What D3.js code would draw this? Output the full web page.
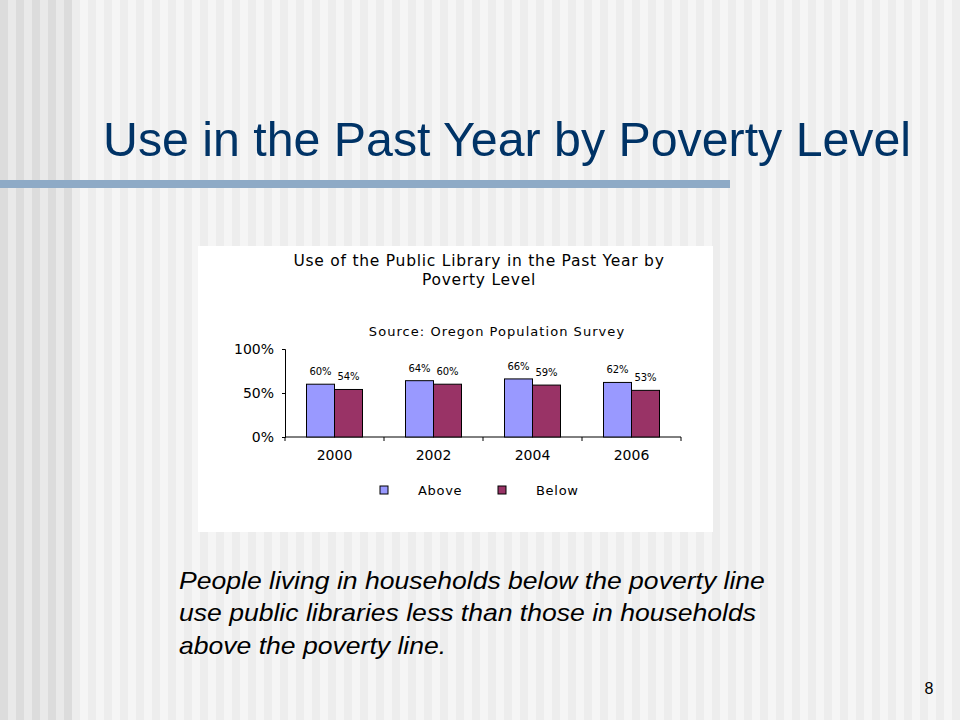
<!DOCTYPE html>
<html>
<head>
<meta charset="utf-8">
<script src="https://cdn.jsdelivr.net/npm/d3@7"></script>
<style>
  html, body { margin: 0; padding: 0; background: #f4f4f4; }
  svg { display: block; }
</style>
</head>
<body>
<svg id="slide" width="960" height="720"></svg>
<script>
// Chart data
const years = ["2000", "2002", "2004", "2006"];
const series = ["Above", "Below"];
const aboveValues = [60, 64, 66, 62];
const belowValues = [54, 60, 59, 53];
const yTicks = [0, 50, 100];
const noteLines = [
    "People living in households below the poverty line",
    "use public libraries less than those in households",
    "above the poverty line."
];

const W = 960, H = 720;
const svg = d3.select("#slide");

// Striped slide background
const stripes = d3.range(0, W, 8);
svg.append("g").selectAll("rect")
    .data(stripes)
    .join("rect")
    .attr("x", d => d)
    .attr("y", 0)
    .attr("width", 8)
    .attr("height", H)
    .attr("fill", (d, i) => {
        if (d < 72) return i % 2 ? "#e9e9e9" : "#dcdcdc";
        return i % 2 ? "#ededed" : "#f5f5f5";
    });

// Slide title and rule
svg.append("text")
    .attr("x", 103)
    .attr("y", 156)
    .attr("font-family", "Liberation Sans, Arial, sans-serif")
    .attr("font-size", 48.3)
    .attr("fill", "#003366")
    .text("Use in the Past Year by Poverty Level");

svg.append("rect")
    .attr("x", 0).attr("y", 180)
    .attr("width", 730).attr("height", 8)
    .attr("fill", "#8eaac6");

// White chart panel
const panel = { x: 198, y: 246, w: 515, h: 286 };
svg.append("rect")
    .attr("x", panel.x).attr("y", panel.y)
    .attr("width", panel.w).attr("height", panel.h)
    .attr("fill", "#ffffff");

const chartFont = "DejaVu Sans, Verdana, sans-serif";

// Chart title, two lines
const titleLines = ["Use of the Public Library in the Past Year by", "Poverty Level"];
svg.append("g").selectAll("text")
    .data(titleLines)
    .join("text")
    .attr("x", 479)
    .attr("y", (d, i) => 266 + i * 19)
    .attr("text-anchor", "middle")
    .attr("font-family", chartFont)
    .attr("font-size", 15.5)
    .attr("letter-spacing", 0.75)
    .attr("fill", "#000")
    .text(d => d);

svg.append("text")
    .attr("x", 497).attr("y", 336)
    .attr("text-anchor", "middle")
    .attr("font-family", chartFont)
    .attr("font-size", 13)
    .attr("letter-spacing", 1.05)
    .text("Source: Oregon Population Survey");

// Scales
const plot = { left: 285, right: 681, top: 349, bottom: 437 };
const x0 = d3.scaleBand().domain(years).range([plot.left, plot.right]).paddingInner(0).paddingOuter(0);
const x1 = d3.scaleBand().domain(series).range([0, 56]);
const y = d3.scaleLinear().domain([0, 100]).range([plot.bottom, plot.top]);
const color = d3.scaleOrdinal().domain(series).range(["#9999ff", "#993366"]);

const rows = years.map((yr, i) => ({ year: yr, Above: aboveValues[i], Below: belowValues[i] }));

// Y axis
const yAxis = svg.append("g")
    .attr("transform", `translate(${plot.left},0)`)
    .call(d3.axisLeft(y).tickValues(yTicks).tickSize(3).tickPadding(8).tickFormat(d => d + "%"));
yAxis.select(".domain").attr("stroke", "#000");
yAxis.selectAll("text").attr("font-family", chartFont).attr("font-size", 14).attr("fill", "#000");

// X axis with ticks between categories
const xAxis = svg.append("g")
    .attr("transform", `translate(0,${plot.bottom})`);
xAxis.append("line")
    .attr("x1", plot.left).attr("x2", plot.right)
    .attr("stroke", "#000");
xAxis.selectAll(".tick")
    .data(years.concat(["end"]))
    .join("line")
    .attr("x1", (d, i) => plot.left + i * x0.bandwidth())
    .attr("x2", (d, i) => plot.left + i * x0.bandwidth())
    .attr("y1", 0).attr("y2", 4)
    .attr("stroke", "#000");
xAxis.selectAll("text")
    .data(years)
    .join("text")
    .attr("x", d => x0(d) + x0.bandwidth() / 2)
    .attr("y", 23)
    .attr("text-anchor", "middle")
    .attr("font-family", chartFont)
    .attr("font-size", 14)
    .text(d => d);

// Bars
const groups = svg.append("g").selectAll("g")
    .data(rows)
    .join("g")
    .attr("transform", d => `translate(${x0(d.year) + x0.bandwidth() / 2 - 28},0)`);

groups.selectAll("rect")
    .data(d => series.map(s => ({ key: s, value: d[s] })))
    .join("rect")
    .attr("x", d => x1(d.key))
    .attr("y", d => y(d.value))
    .attr("width", x1.bandwidth())
    .attr("height", d => y(0) - y(d.value))
    .attr("fill", d => color(d.key))
    .attr("stroke", "#000")
    .attr("stroke-width", 1);

groups.selectAll("text")
    .data(d => series.map(s => ({ key: s, value: d[s] })))
    .join("text")
    .attr("x", d => x1(d.key) + x1.bandwidth() / 2)
    .attr("y", d => y(d.value) - 9)
    .attr("text-anchor", "middle")
    .attr("font-family", chartFont)
    .attr("font-size", 10)
    .text(d => d.value + "%");

// Legend
const legendX = [380, 498];
const legend = svg.append("g").selectAll("g")
    .data(series)
    .join("g")
    .attr("transform", (d, i) => `translate(${legendX[i]},486)`);
legend.append("rect")
    .attr("width", 8).attr("height", 8)
    .attr("fill", d => color(d))
    .attr("stroke", "#000");
legend.append("text")
    .attr("x", 38).attr("y", 9)
    .attr("font-family", chartFont)
    .attr("font-size", 13)
    .attr("letter-spacing", 0.7)
    .text(d => d);

// Note text (slightly stretched horizontally, as on the slide)
svg.append("g")
    .attr("transform", "translate(179,0) scale(1.155,1)")
    .selectAll("text")
    .data(noteLines)
    .join("text")
    .attr("x", 0)
    .attr("y", (d, i) => 589 + i * 32.3)
    .attr("font-family", "Liberation Sans, Arial, sans-serif")
    .attr("font-style", "italic")
    .attr("font-size", 23)
    .attr("fill", "#000")
    .text(d => d);

// Page number
svg.append("text")
    .attr("x", 929).attr("y", 694)
    .attr("text-anchor", "middle")
    .attr("font-family", "Liberation Sans, Arial, sans-serif")
    .attr("font-size", 16)
    .text("8");
</script>
</body>
</html>
